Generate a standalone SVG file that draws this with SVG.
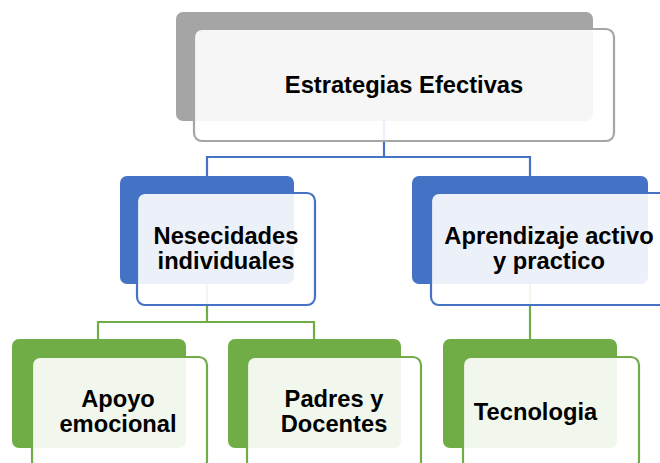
<svg xmlns="http://www.w3.org/2000/svg" width="660" height="463" viewBox="0 0 660 463">
<style>
.back{stroke:none}
.front{fill:#ffffff;fill-opacity:0.9;stroke-width:2.2}
.gray{fill:#a5a5a5}
.blue{fill:#4472c4}
.green{fill:#70ad47}
.fgray{stroke:#a5a5a5}
.fblue{stroke:#4472c4}
.fgreen{stroke:#70ad47}
text{font-family:"Liberation Sans",Arial,sans-serif;font-weight:bold;font-size:23.7px;fill:#000;text-anchor:middle}
.conn{fill:none;stroke-width:2.2}
</style>
<rect width="660" height="463" fill="#ffffff"/>
<g id="connectors">
<path class="conn" stroke="#4472c4" d="M384,121 V157 M207,157 H530 M207,156 V176 M530,156 V176"/>
<path class="conn" stroke="#70ad47" d="M207,284 V322 M98,322 H314 M98,321 V339 M314,321 V339 M530,284 V339"/>
</g>
<g id="node-estrategias">
<rect class="back gray" x="176" y="12" width="417" height="109" rx="7"/>
<rect class="front fgray" x="194" y="29" width="420" height="112" rx="8"/>
<text x="404" y="93">Estrategias Efectivas</text>
</g>
<g id="node-nesecidades">
<rect class="back blue" x="120" y="176" width="174" height="108" rx="7"/>
<rect class="front fblue" x="137" y="193" width="178" height="112" rx="8"/>
<text x="226" y="243.5">Nesecidades</text>
<text x="226" y="269">individuales</text>
</g>
<g id="node-aprendizaje">
<rect class="back blue" x="412" y="176" width="236" height="108" rx="7"/>
<rect class="front fblue" x="431" y="193" width="240" height="112" rx="8"/>
<text x="549" y="244">Aprendizaje activo</text>
<text x="549" y="269">y practico</text>
</g>
<g id="node-apoyo">
<rect class="back green" x="12" y="339" width="174" height="109" rx="7"/>
<rect class="front fgreen" x="32" y="357" width="175" height="112" rx="8"/>
<text x="118" y="407">Apoyo</text>
<text x="118" y="432">emocional</text>
</g>
<g id="node-padres">
<rect class="back green" x="228" y="339" width="173" height="109" rx="7"/>
<rect class="front fgreen" x="247" y="357" width="174" height="112" rx="8"/>
<text x="334" y="407">Padres y</text>
<text x="334" y="432">Docentes</text>
</g>
<g id="node-tecnologia">
<rect class="back green" x="443" y="339" width="174" height="109" rx="7"/>
<rect class="front fgreen" x="463" y="357" width="176" height="112" rx="8"/>
<text x="535.5" y="420">Tecnologia</text>
</g>
</svg>
